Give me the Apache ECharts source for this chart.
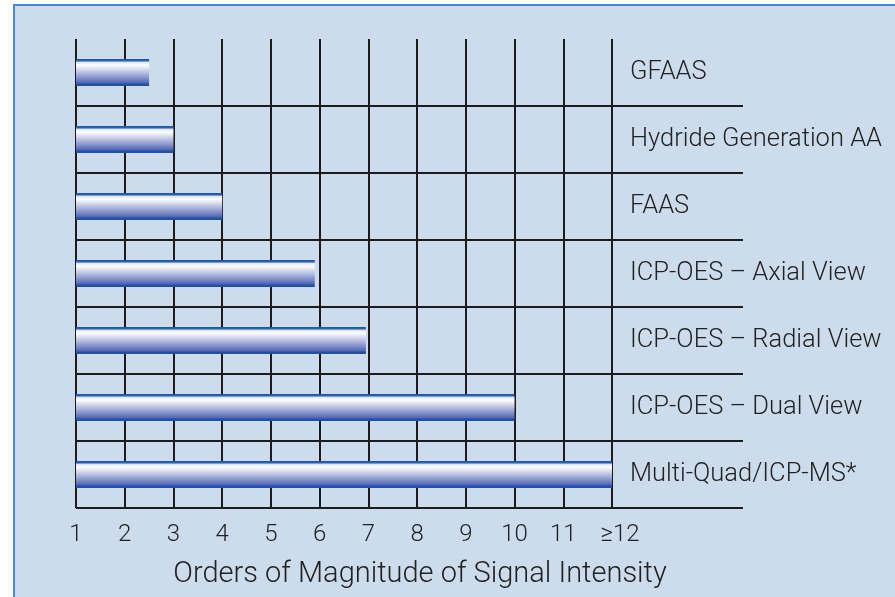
<!DOCTYPE html>
<html lang="en">
    <head>
        <meta charset='utf-8'>
        <title>Signal Intensity</title>
        <script src="https://cdn.jsdelivr.net/npm/echarts@6/dist/echarts.min.js"></script>
        <style>
            body { margin:0; background:#fff; }
            #panel { position:absolute; left:13px; top:4px; width:882px; height:593px;
                     background:#cddcec; border-left:2px solid #4a86cf; border-top:2px solid #4a86cf; }
            #chart { position:absolute; left:0; top:0; width:895px; height:597px; }
        </style>
    </head>
    <body>
        <div id='panel'></div>
        <div id='chart'></div>
        <script>
            // data
            var techniques = ['GFAAS', 'Hydride Generation AA', 'FAAS', 'ICP-OES \u2013 Axial View',
                              'ICP-OES \u2013 Radial View', 'ICP-OES \u2013 Dual View', 'Multi-Quad/ICP-MS*'];
            var magnitudes = [2.5, 3, 4, 5.9, 6.95, 10, 12];
            var tickLabels = ['1','2','3','4','5','6','7','8','9','10','11','\u226512'];
            var axisTitle = 'Orders of Magnitude of Signal Intensity';

            var chart = echarts.init(document.getElementById('chart'));
            var lineColor = '#1c1c1c';
            var textColor = '#222';
            var font = 'Roboto';

            var barFill = new echarts.graphic.LinearGradient(0, 0, 0, 1, [
                { offset: 0, color: '#1a55aa' },
                { offset: 0.07, color: '#2a62b6' },
                { offset: 0.12, color: '#dfe3f3' },
                { offset: 0.22, color: '#ffffff' },
                { offset: 0.45, color: '#c5cbe7' },
                { offset: 0.7, color: '#8492cc' },
                { offset: 0.88, color: '#5366b3' },
                { offset: 0.93, color: '#1d52a6' },
                { offset: 1, color: '#1d52a6' }
            ]);

            var option = {
                animation: false,
                backgroundColor: 'transparent',
                grid: [
                    // wide grid: horizontal row lines only
                    { left: 76, right: 152, top: 39, bottom: 89 },
                    // plot grid: bars and vertical lines
                    { left: 76, right: 283, top: 39, bottom: 89 }
                ],
                xAxis: [
                    { gridIndex: 0, type: 'value', min: 0, max: 1, show: false },
                    {
                        gridIndex: 1, type: 'value', min: 1, max: 12, interval: 1,
                        axisLine: { show: false },
                        axisTick: { show: false },
                        splitLine: { show: true, lineStyle: { color: lineColor, width: 2 } },
                        axisLabel: {
                            margin: 15, color: textColor, fontFamily: font, fontSize: 24, fontWeight: 300,
                            formatter: function (v) {
                                var s = tickLabels[Math.round(v) - 1];
                                return v === 12 ? '{ge|' + s + '}' : s;
                            },
                            rich: { ge: { fontFamily: font, fontSize: 24, fontWeight: 300, color: textColor, padding: [0, 0, 0, 16] } }
                        }
                    }
                ],
                yAxis: [
                    {
                        gridIndex: 0, type: 'category', data: techniques, inverse: true,
                        axisLine: { show: false }, axisTick: { show: false }, axisLabel: { show: false },
                        splitLine: { show: true, showMinLine: false, lineStyle: { color: lineColor, width: 2 } }
                    },
                    {
                        gridIndex: 1, type: 'category', data: techniques, inverse: true, position: 'right',
                        axisLine: { show: false }, axisTick: { show: false }, splitLine: { show: false },
                        axisLabel: { margin: 18, color: textColor, fontFamily: font, fontSize: 25.5, fontWeight: 300,
                                     padding: [4, 0, 0, 0] }
                    }
                ],
                graphic: [{
                    type: 'text', x: 420, y: 575,
                    style: { text: axisTitle, fill: textColor, font: '300 29px Roboto', align: 'center', verticalAlign: 'middle' }
                }],
                series: [{
                    type: 'bar',
                    xAxisIndex: 1, yAxisIndex: 1,
                    data: magnitudes,
                    barWidth: 27,
                    itemStyle: { color: barFill },
                    z: 3
                }]
            };
            chart.setOption(option);
        </script>
    </body>
</html>
